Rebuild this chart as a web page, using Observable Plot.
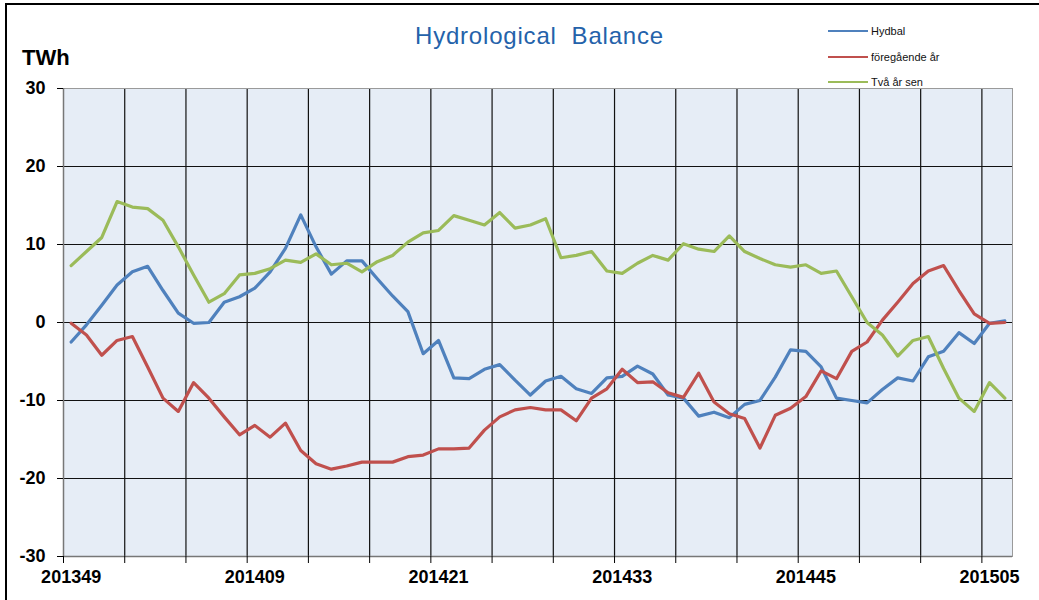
<!DOCTYPE html>
<html><head><meta charset="utf-8">
<script src="https://cdn.jsdelivr.net/npm/d3@7"></script>
<script src="https://cdn.jsdelivr.net/npm/@observablehq/plot@0.6"></script>
<style>
html,body{margin:0;padding:0;background:#fff;overflow:hidden}
#wrap{position:relative;width:1039px;height:600px;overflow:hidden;font-family:"Liberation Sans",Arial,sans-serif;}
#border{position:absolute;left:5px;top:3px;width:1100px;height:700px;border-top:2px solid #000;border-left:2px solid #000;}
#chart{position:absolute;left:0;top:0;}
#title{position:absolute;left:415px;top:24px;font-size:24px;line-height:24px;letter-spacing:0.8px;color:#2462AA;white-space:pre;}
#unit{position:absolute;left:22px;top:47px;font-size:22px;line-height:22px;font-weight:bold;color:#000;}
.leg{position:absolute;left:828px;display:flex;align-items:center;height:12px;font-size:11px;color:#111;}
.leg .sw{width:40px;height:2.5px;margin-right:3px;}
</style></head><body>
<div id="wrap">
  <div id="border"></div>
  <div id="chart"></div>
  <div id="title">Hydrological  Balance</div>
  <div id="unit">TWh</div>
</div>
<script>
const weeks = ["201349","201350","201351","201352",
  "201401","201402","201403","201404","201405","201406","201407","201408","201409","201410",
  "201411","201412","201413","201414","201415","201416","201417","201418","201419","201420",
  "201421","201422","201423","201424","201425","201426","201427","201428","201429","201430",
  "201431","201432","201433","201434","201435","201436","201437","201438","201439","201440",
  "201441","201442","201443","201444","201445","201446","201447","201448","201449","201450",
  "201451","201452","201501","201502","201503","201504","201505","201506"];
const hydbal = [-2.5,-0.3,2.2,4.8,6.5,7.2,4.1,1.2,-0.1,0.0,2.6,3.3,4.4,6.5,9.5,13.8,9.7,6.2,7.9,7.9,
  5.6,3.4,1.4,-4.0,-2.3,-7.1,-7.2,-6.0,-5.4,-7.4,-9.3,-7.5,-6.9,-8.5,-9.1,-7.1,-6.9,-5.6,-6.6,-9.3,
  -9.7,-12.0,-11.5,-12.2,-10.5,-10.0,-7.0,-3.5,-3.7,-5.7,-9.7,-10.0,-10.3,-8.6,-7.1,-7.5,-4.4,-3.7,-1.3,-2.7,
  -0.1,0.2];
const foregaendeAr = [-0.1,-1.6,-4.2,-2.3,-1.8,-5.7,-9.7,-11.4,-7.7,-9.7,-12.1,-14.4,-13.2,-14.7,-12.9,-16.4,-18.1,-18.8,-18.4,-17.9,
  -17.9,-17.9,-17.2,-17.0,-16.2,-16.2,-16.1,-13.8,-12.1,-11.2,-10.9,-11.2,-11.2,-12.6,-9.7,-8.5,-6.0,-7.7,-7.6,-9.0,
  -9.6,-6.5,-10.2,-11.7,-12.3,-16.1,-11.9,-11.0,-9.5,-6.2,-7.2,-3.7,-2.5,0.3,2.6,5.0,6.6,7.3,4.1,1.1,
  -0.1,0.0];
const tvaArSen = [7.3,9.1,10.9,15.5,14.8,14.6,13.1,9.7,6.1,2.6,3.7,6.1,6.3,6.9,8.0,7.7,8.8,7.4,7.6,6.5,
  7.8,8.6,10.3,11.5,11.8,13.7,13.1,12.5,14.1,12.1,12.5,13.3,8.3,8.6,9.1,6.6,6.3,7.6,8.6,8.0,
  10.1,9.4,9.1,11.1,9.1,8.2,7.4,7.1,7.4,6.3,6.6,3.3,0.0,-1.6,-4.3,-2.3,-1.8,-5.9,-9.7,-11.4,
  -7.7,-9.7];
const seriesNames = ["Hydbal","föregående år","Två år sen"];
const seriesColors = ["#4F81BD","#C0504D","#9BBB59"];
const tickWeeks = ["201349","201409","201421","201433","201445","201505"];
const yTicks = [-30,-20,-10,0,10,20,30];

const rows = [];
[hydbal, foregaendeAr, tvaArSen].forEach((vals, s) =>
  vals.forEach((v, i) => rows.push({series: seriesNames[s], idx: i + 0.5, value: v})));
const gridIdx = weeks.map((w, i) => i).filter(i => i % 4 === 0);
const labelIdx = tickWeeks.map(w => weeks.indexOf(w) + 0.5);

const chart = Plot.plot({
  width: 1039, height: 600,
  marginLeft: 63, marginRight: 27, marginTop: 88, marginBottom: 44,
  style: {fontFamily: "'Liberation Sans', Arial, sans-serif", fontSize: "18px", fontWeight: "bold", color: "#000", background: "transparent"},
  x: {domain: [0, weeks.length]},
  y: {domain: [-30, 30]},
  color: {domain: seriesNames, range: seriesColors},
  marks: [
    Plot.frame({fill: "#E6EDF6", stroke: null}),
    Plot.ruleX(gridIdx.filter(i => i > 0), {stroke: "#111", strokeWidth: 1.2}),
    Plot.ruleY(yTicks.filter(v => v > -30 && v < 30), {stroke: "#111", strokeWidth: 1.2}),
    Plot.frame({stroke: "#9a9a9a", fill: "none"}),
    Plot.ruleX([0], {stroke: "#777", strokeWidth: 1.5}),
    Plot.ruleY([-30], {stroke: "#777", strokeWidth: 1.5}),
    Plot.axisY({ticks: yTicks, tickSize: 6, tickPadding: 12, tickFormat: d => String(d), label: null}),
    Plot.axisX({ticks: gridIdx, tickSize: 7, fill: "none", label: null}),
    Plot.axisX({ticks: labelIdx, tickSize: 0, tickPadding: 14, tickFormat: i => weeks[Math.floor(i)], label: null}),
    Plot.line(rows, {x: "idx", y: "value", z: "series", stroke: "series", strokeWidth: 3.2})
  ]
});
document.getElementById("chart").appendChild(chart);

const wrap = document.getElementById("wrap");
const legY = [31, 57, 82];
seriesNames.forEach((name, k) => {
  const d = document.createElement("div");
  d.className = "leg";
  d.style.top = (legY[k] - 6) + "px";
  const sw = document.createElement("span");
  sw.className = "sw";
  sw.style.background = seriesColors[k];
  const t = document.createElement("span");
  t.textContent = name;
  d.appendChild(sw); d.appendChild(t);
  wrap.appendChild(d);
});
</script>
</body></html>
